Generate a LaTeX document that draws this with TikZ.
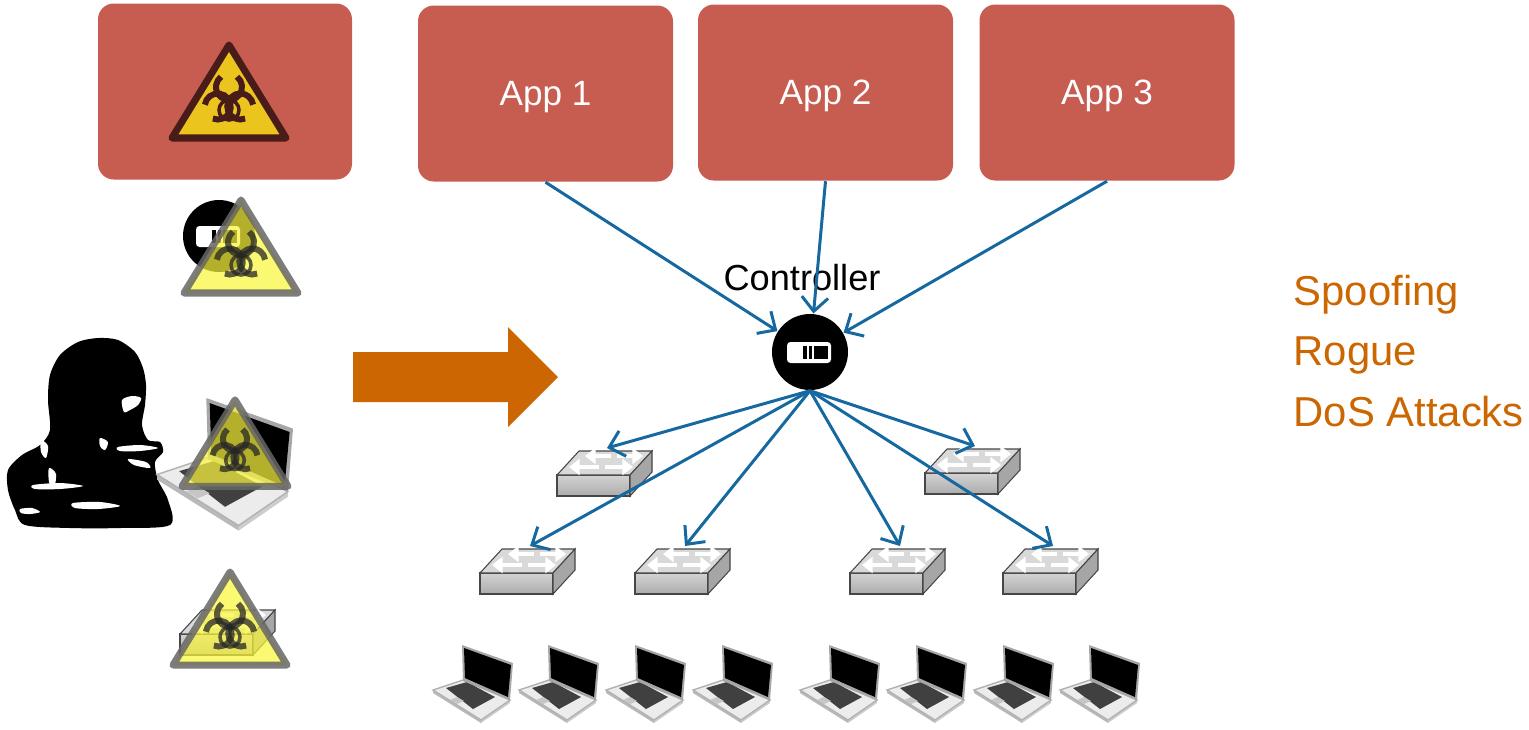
\documentclass[tikz,border=0pt]{standalone}
\usepackage{fontspec}
\setmainfont{Liberation Sans}
\usetikzlibrary{arrows.meta}

\definecolor{appred}{RGB}{199,92,81}
\definecolor{linkblue}{RGB}{22,104,160}
\definecolor{attack}{RGB}{204,102,0}
\definecolor{hazgold}{RGB}{236,196,30}
\definecolor{hazbrown}{RGB}{72,28,24}
\definecolor{hazlemon}{RGB}{250,245,60}

\tikzset{
	appbox/.style={fill=appred, rounded corners=4.5pt, minimum width=25.5mm, minimum height=17.6mm, inner sep=0pt, text depth=0pt, text=white, font=\fontsize{10}{12}\selectfont},
	link/.style={draw=linkblue, line width=0.85pt, -{Straight Barb[length=4pt,width=7.5pt]}},
	ctrlnode/.style={circle, fill=black, inner sep=0pt, minimum size=7.6mm},
	haz/.style={fill=hazgold, draw=hazbrown, line width=2pt, line join=round},
	haz sign/.style={draw=hazbrown, line width=1pt},
	hazover/.style={fill=hazlemon, fill opacity=0.72, draw=black!60, draw opacity=0.85, line width=2pt, line join=round},
	hazover sign/.style={draw=black!85, line width=1pt, opacity=0.75},
	swedge/.style={draw=gray!55!black, line width=0.3pt},
	swarrow/.style={white, line width=1.3pt, -{Triangle[length=3pt,width=4.5pt]}},
	threatlabel/.style={font=\fontsize{11.9}{14}\selectfont, text=attack, anchor=base west, inner sep=0pt}
}

% biohazard sign: centre x, y, scale, style
\newcommand{\hazard}[4]{%
	\begin{scope}[shift={(#1,#2)}, scale=#3]
		\draw[#4] (0,-55) -- (57,38) -- (-57,38) -- cycle;
		\foreach \a in {270,30,150}
			\draw[#4 sign, line width=1.7pt] ([shift={(\a:13)}]\a+38:13) arc[start angle=\a+38, end angle=\a+322, radius=13];
		\draw[#4 sign] (0,10) circle (10);
	\end{scope}}

% key on a controller disc
\newcommand{\ctrlkey}[2]{%
	\begin{scope}[shift={(#1,#2)}]
		\fill[white, rounded corners=1pt] (-23,-10) rectangle (21,11);
		\fill[black] (-7,-6) rectangle (-3,7);
		\fill[black] (-1,-6) rectangle (2,7);
		\fill[black] (4,-6) rectangle (18,7);
	\end{scope}}

% switch: name, front top left corner
\newcommand{\switchbox}[3]{%
	\begin{scope}[shift={(#2,#3)}]
		\draw[swedge, top color=gray!35, bottom color=gray!65] (0,0) rectangle (73,21);
		\draw[swedge, fill=gray!30] (0,0) -- (22,-24) -- (95,-24) -- (73,0) -- cycle;
		\draw[swedge, fill=gray!70] (73,0) -- (95,-24) -- (95,-3) -- (73,21) -- cycle;
		\draw[swarrow] (54,-19) -- (28,-19);
		\draw[swarrow] (60,-19) -- (86,-19);
		\draw[swarrow] (42,-8) -- (12,-8);
		\draw[swarrow] (48,-8) -- (76,-8);
		\coordinate (#1) at (50,-27);
	\end{scope}}

% laptop: top left corner, scale
\newcommand{\laptop}[3]{%
	\begin{scope}[shift={(#1,#2)}, scale=#3]
		\fill[gray!55] (0,45) -- (48,75) -- (48,78) -- (0,48) -- cycle;
		\fill[gray!40] (48,75) -- (77,55) -- (77,58) -- (48,78) -- cycle;
		\draw[gray!60, fill=gray!15] (0,45) -- (30,35) -- (77,55) -- (48,75) -- cycle;
		\fill[black!75] (13,43) -- (34,37) -- (62,52) -- (40,64) -- cycle;
		\fill[gray!45] (17,55) -- (24,52) -- (31,56) -- (24,59) -- cycle;
		\fill[gray!70] (29,0) -- (80,18) -- (77,55) -- (30,36) -- cycle;
		\fill[black] (31,3) -- (78,20) -- (75,52) -- (32,33) -- cycle;
	\end{scope}}

\begin{document}
\begin{tikzpicture}[x=0.1mm, y=-0.1mm]
	\useasboundingbox (0,0) rectangle (1529,729);

	% applications
	\node[appbox, minimum width=25.4mm] (threat) at (225,91.5) {};
	\hazard{229}{100}{1}{haz}
	\node[appbox] (app1) at (545.5,93.5) {App 1};
	\node[appbox] (app2) at (825.5,92.5) {App 2};
	\node[appbox] (app3) at (1107,92.5) {App 3};

	% attacker side
	\node[ctrlnode, minimum size=7.2mm] (rogue) at (219,236) {};
	\ctrlkey{219}{236}
	\hazard{241}{255}{1}{hazover}

	\fill[black] plot[smooth cycle] coordinates {(98,338) (118,340) (135,352) (143,368) (146,385) (145,405) (142,425) (148,440) (160,442) (163,452) (155,462) (158,480) (168,500) (170,525) (120,528) (70,528) (25,525) (15,510) (8,490) (8,470) (22,455) (40,445) (50,430) (48,400) (50,375) (60,355) (78,342)};
	\fill[white] plot[smooth cycle] coordinates {(122,400) (132,396) (141,398) (138,405) (130,410) (124,412)};
	\fill[white] plot[smooth cycle] coordinates {(41,440) (48,446) (46,458) (41,452)};
	\fill[white] plot[smooth cycle] coordinates {(100,438) (108,442) (105,450) (100,446)};
	\fill[white] plot[smooth cycle] coordinates {(49,468) (56,474) (54,488) (49,482)};
	\fill[white] plot[smooth cycle] coordinates {(33,485) (60,483) (83,486) (60,489) (35,489)};
	\fill[white] plot[smooth cycle] coordinates {(118,447) (140,445) (158,448) (140,451) (120,451)};
	\fill[white] plot[smooth cycle] coordinates {(128,459) (146,462) (150,468) (134,465)};
	\fill[white] plot[smooth cycle] coordinates {(73,503) (100,502) (120,506) (98,509) (75,508)};
	\fill[white] plot[smooth cycle] coordinates {(20,509) (32,508) (40,512) (30,514) (21,513)};

	\laptop{157}{398}{1.7}
	\hazard{235}{451}{0.93}{hazover}

	\switchbox{swrogue}{180}{634}
	\hazard{230}{627}{1}{hazover}

	\fill[attack] (353,352) -- (508,352) -- (508,327) -- (558,377) -- (508,427) -- (508,402) -- (353,402) -- cycle;

	% controller and data plane
	\node[ctrlnode] (ctrl) at (810,352) {};
	\ctrlkey{810}{352}
	\node[anchor=base, inner sep=0pt, font=\fontsize{10.3}{12}\selectfont] (ctrllabel) at (802,290) {Controller};

	\switchbox{swA}{557}{475}
	\switchbox{swB}{925}{473}
	\switchbox{swC}{480}{573}
	\switchbox{swD}{635}{573}
	\switchbox{swE}{850}{573}
	\switchbox{swF}{1003}{573}

	\draw[link] (app1.south) -- (ctrl);
	\draw[link] (app2.south) -- (ctrl);
	\draw[link] (app3.south) -- (ctrl);
	\draw[link] (ctrl.south) -- (swA);
	\draw[link] (ctrl.south) -- (swB);
	\draw[link] (ctrl.south) -- (swC);
	\draw[link] (ctrl.south) -- (swD);
	\draw[link] (ctrl.south) -- (swE);
	\draw[link] (ctrl.south) -- (swF);

	\laptop{433}{645}{1}
	\laptop{519}{645}{1}
	\laptop{606}{645}{1}
	\laptop{693}{645}{1}
	\laptop{800}{645}{1}
	\laptop{887}{645}{1}
	\laptop{974}{645}{1}
	\laptop{1060}{645}{1}

	\node[threatlabel] (spoof) at (1293,305) {Spoofing};
	\node[threatlabel] (rogueapp) at (1293,365) {Rogue};
	\node[threatlabel] (dos) at (1293,426) {DoS Attacks};
\end{tikzpicture}
\end{document}
